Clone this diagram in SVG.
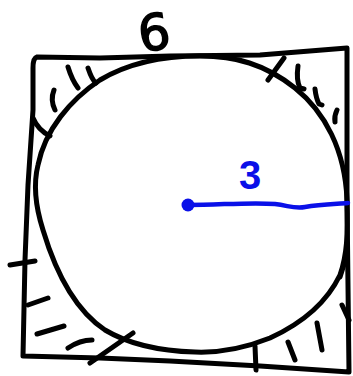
<svg xmlns="http://www.w3.org/2000/svg" width="353" height="376" viewBox="0 0 353 376">
<style>
.ink{fill:none;stroke:#000;stroke-width:5;stroke-linecap:round;stroke-linejoin:round}
.blue{fill:none;stroke:#0a10e8;stroke-width:4.5;stroke-linecap:round}
</style>
<rect width="353" height="376" fill="#fff"/>
<path class="ink" d="M37,57 L100,58 L170,56 L260,55 L347,48 L347,200 L349,372 L260,366 L170,361 L100,358 L23,356 L25,260 L28,185 L33,110 L33,68 Q33,58 37,57 Z"/>
<path class="ink" d="M200,56 C235,56 265,64 295,88 C325,112 345,150 347,200 C348,235 347,255 340,275 C328,300 305,322 270,338 C245,348 220,353 195,352 C160,351 130,345 105,330 C75,310 55,270 43,230 C35,205 33,185 38,165 C45,130 70,100 100,80 C130,62 165,56 200,56 Z"/>
<path class="ink" d="M33,118 Q38,130 50,136"/>
<path class="ink" d="M340,277 L347,255"/>
<g class="ink">
<path d="M54,90 Q50,100 55,110"/>
<path d="M68,67 Q72,80 78,88"/>
<path d="M88,68 Q92,80 96,83"/>
<path d="M268,80 L284,58"/>
<path d="M298,66 Q296,80 300,88 L304,89"/>
<path d="M315,89 Q316,98 319,104 L322,105"/>
<path d="M337,110 Q334,116 335,122"/>
<path d="M10,265 L35,261"/>
<path d="M28,305 L48,298"/>
<path d="M37,334 L64,326"/>
<path d="M68,348 Q80,340 92,340"/>
<path d="M90,363 L133,333"/>
<path d="M255,346 L256,370"/>
<path d="M288,342 L295,360"/>
<path d="M317,323 L322,350"/>
<path d="M342,305 L349,320"/>
</g>
<text x="154" y="50" font-family="DejaVu Sans, sans-serif" font-size="50" stroke="#000" stroke-width="1.5" text-anchor="middle" transform="rotate(-8 154 32)">6</text>
<path class="blue" d="M188,205 C220,205 250,202 275,204 C290,206 295,209 305,207 C320,204 335,204 348,203"/>
<circle cx="188" cy="205" r="6.5" fill="#0a10e8"/>
<text x="250" y="189" font-family="Liberation Sans, sans-serif" font-weight="bold" font-size="40" fill="#0a10e8" text-anchor="middle">3</text>
</svg>
